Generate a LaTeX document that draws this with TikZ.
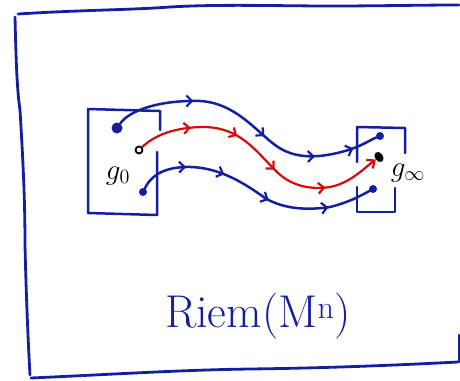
\documentclass[tikz,border=0pt]{standalone}
\usepackage{graphicx}
\usetikzlibrary{arrows.meta,decorations.markings,shapes.geometric}
\definecolor{ink}{RGB}{18,32,160}
\definecolor{redink}{RGB}{215,10,10}
\tikzset{
  frame/.style={draw=ink,line width=2.8pt,line cap=round,line join=round},
  pen/.style={draw=ink,line width=2.5pt,line cap=round,line join=round},
  redpen/.style={draw=redink,line width=2.2pt,line cap=round,line join=round},
  chev/.tip={Straight Barb[length=5.5pt,width=11pt,line width=2.2pt]},
  bigdot/.style={circle,fill=ink,inner sep=0pt,minimum size=11pt},
  smalldot/.style={circle,fill=ink,inner sep=0pt,minimum size=8pt},
  opendot/.style={circle,draw=black,line width=1.8pt,fill=white,inner sep=0pt,minimum size=7pt},
  lab/.style={font=\fontsize{20}{22}\selectfont,text=black,inner sep=0pt}
}
\begin{document}
\begin{tikzpicture}[x=1pt,y=-1pt]
\useasboundingbox (0,0) rectangle (460,380);
% outer frame
\draw[frame] (18,14) .. controls (80,10) and (130,10) .. (170,7) .. controls (220,4) and (280,6) .. (330,6) .. controls (380,6) and (420,5) .. (459,5);
\draw[frame] (15,17) .. controls (16,60) and (17,90) .. (20,110) .. controls (23,160) and (25,200) .. (25,245) .. controls (26,290) and (28,340) .. (30,375);
\draw[frame] (31,378) .. controls (120,374) and (180,370) .. (250,369) .. controls (330,368) and (400,365) .. (458,362);
\draw[frame] (459,335) -- (459,362);

% left box
\draw[pen] (160,130) -- (160,111) -- (88,109) -- (88,213) -- (157,215) -- (157,152);
% right box
\draw[pen] (357,162) -- (357,127) -- (405,128) -- (405,153);
\draw[pen] (357,187) -- (357,212) -- (395,212) -- (395,188);

% points
\node[bigdot] (a) at (117,128) {};
\node[opendot] (b) at (139,150) {};
\node[smalldot] (c) at (143,192) {};
\node[smalldot] (d) at (380,136) {};
\node[fill=black,ellipse,inner sep=0pt,minimum width=8pt,minimum height=11pt,rotate=35] (e) at (379,157) {};
\node[smalldot] (f) at (373,189) {};

\node[lab] (g0) at (118,176) {\scalebox{1.4}{$g_0$}};
\node[lab] (ginf) at (408,173) {\scalebox{1.4}{$g_\infty$}};

% paths
\draw[pen,postaction={decorate},decoration={markings,
  mark=at position 0.28 with {\arrow{chev}},
  mark=at position 0.57 with {\arrow{chev}},
  mark=at position 0.77 with {\arrow{chev}},
  mark=at position 0.91 with {\arrow{chev}}}]
  (a) .. controls (130,110) and (160,100) .. (200,101)
      .. controls (235,103) and (255,130) .. (275,145)
      .. controls (295,160) and (320,158) .. (345,151)
      .. controls (360,147) and (370,140) .. (d);

\draw[redpen,-{Straight Barb[length=6pt,width=11pt,line width=2.2pt]},postaction={decorate},decoration={markings,
  mark=at position 0.2 with {\arrow{chev}},
  mark=at position 0.38 with {\arrow{chev}},
  mark=at position 0.57 with {\arrow{chev}},
  mark=at position 0.78 with {\arrow{chev}}}]
  (b) .. controls (155,135) and (175,127) .. (205,127)
      .. controls (240,128) and (255,150) .. (275,170)
      .. controls (290,186) and (310,190) .. (330,187)
      .. controls (350,183) and (362,170) .. (e);

\draw[pen,postaction={decorate},decoration={markings,
  mark=at position 0.2 with {\arrow{chev}},
  mark=at position 0.36 with {\arrow{chev}},
  mark=at position 0.57 with {\arrow{chev}},
  mark=at position 0.82 with {\arrow{chev}}}]
  (c) .. controls (150,178) and (160,168) .. (185,167)
      .. controls (215,166) and (240,180) .. (265,198)
      .. controls (285,210) and (310,210) .. (330,207)
      .. controls (350,202) and (362,195) .. (f);

% title
\node[text=ink,font=\fontsize{46}{50}\selectfont,inner sep=0pt] (title) at (258,316) {Riem(M\textsuperscript{n})};
\end{tikzpicture}
\end{document}
